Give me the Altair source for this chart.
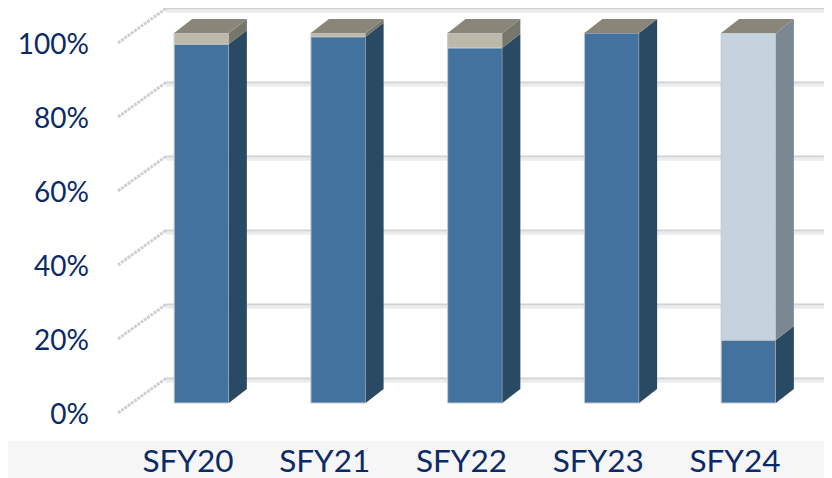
import altair as alt
import pandas as pd

categories = ["SFY20", "SFY21", "SFY22", "SFY23", "SFY24"]
primary = [0.97, 0.99, 0.96, 1.00, 0.17]
secondary = [0.03, 0.01, 0.04, 0.00, 0.83]
secondary_front = ["#BDB9A9", "#BDB9A9", "#BDB9A9", "#BDB9A9", "#C6D3DF"]
secondary_side = ["#77766B", "#77766B", "#77766B", "#77766B", "#7C8794"]
ticks = [0, 0.2, 0.4, 0.6, 0.8, 1.0]

BLUE, BLUE_SIDE, TOP = "#44729E", "#2A4A63", "#8A8579"
INK = "#0B2A66"

# projection of the 3-D look, in data units
HALF = 0.2
LIFT = 0.027
DX, DY = 0.1316, 0.0378
WALL_DX, WALL_DY = 0.351, 0.0935

xs = alt.Scale(domain=[-0.618, 4.552], nice=False, zero=False)
ys = alt.Scale(domain=[-0.0757, 1.0946], nice=False, zero=False)
x_axis = alt.Axis(
    values=list(range(5)), labelExpr="['SFY20','SFY21','SFY22','SFY23','SFY24'][datum.value]",
    orient="bottom", domain=False, ticks=False, grid=False, labelFont="Lato", labelFontSize=31.5,
    labelColor=INK, labelOffset=-14, labelPadding=5, labelBaseline="top", zindex=1)
y_axis = alt.Axis(
    values=ticks, format=".0%", orient="left", domain=False, ticks=False, grid=False,
    labelFont="Lato", labelFontSize=28, labelColor=INK, labelPadding=28.5, labelOffset=2.5, zindex=1)
X = alt.X("x:Q", scale=xs, title=None, axis=x_axis)
Y = alt.Y("y:Q", scale=ys, title=None, axis=y_axis, stack=None)

front, side, top = [], [], []
for i, (p, s) in enumerate(zip(primary, secondary)):
    l, r = i - HALF, i + HALF
    segs = [(0, p, BLUE, BLUE_SIDE)]
    if s > 0:
        segs.append((p, p + s, secondary_front[i], secondary_side[i]))
    for k, (a, b, fc, sc) in enumerate(segs):
        a += LIFT
        b += LIFT
        front.append(dict(x=l, x2=r, y=a, y2=b, c=fc))
        key = f"{i}-{k}"
        side.append(dict(x=r, y=a, y2=b, c=sc, k=key))
        side.append(dict(x=r + DX, y=a + DY, y2=b + DY, c=sc, k=key))
    t = LIFT + p + s
    top += [
        dict(x=l, y=t, y2=t, c=TOP, k=str(i)),
        dict(x=l + DX, y=t, y2=t + DY, c=TOP, k=str(i)),
        dict(x=r, y=t, y2=t + DY, c=TOP, k=str(i)),
        dict(x=r + DX, y=t + DY, y2=t + DY, c=TOP, k=str(i)),
    ]

x_left = xs.domain[0] + 1 / 136.75
x_wall = x_left + WALL_DX
grid = pd.DataFrame([dict(x=x_wall, x2=xs.domain[1], y=v + WALL_DY, y_low=v + WALL_DY - 0.0075, v=v) for v in ticks])
slant = pd.DataFrame(
    [dict(x=x_left, y=v, k=v) for v in ticks] + [dict(x=x_wall, y=v + WALL_DY, k=v) for v in ticks]
)

band = alt.Chart(pd.DataFrame([{"a": 1}])).mark_rect(color="#F6F6F6").encode(
    x=alt.value(-109), x2=alt.value(707), y=alt.value(433), y2=alt.value(470)
)

grid_soft = alt.Chart(grid).mark_rule(color="#ECECEC", strokeWidth=3).encode(
    x=X, x2="x2:Q", y=alt.Y("y_low:Q", scale=ys, title=None, axis=y_axis)
)
grid_line = alt.Chart(grid).mark_rule(color="#D2D2D2", strokeWidth=2).encode(x=X, x2="x2:Q", y=Y)
slants = alt.Chart(slant).mark_line(color="#D0D0D0", strokeWidth=3, strokeDash=[3, 1]).encode(
    x=X, y=Y, detail="k:N", order="x:Q"
)
sides = alt.Chart(pd.DataFrame(side)).mark_area(interpolate="linear", orient="vertical").encode(
    x=X, y=Y, y2="y2:Q", detail="k:N", color=alt.Color("c:N", scale=None)
)
tops = alt.Chart(pd.DataFrame(top)).mark_area(interpolate="linear", orient="vertical").encode(
    x=X, y=Y, y2="y2:Q", detail="k:N", color=alt.Color("c:N", scale=None)
)
fronts = alt.Chart(pd.DataFrame(front)).mark_rect(stroke="#C4C8CC", strokeWidth=1).encode(
    x=X, x2="x2:Q", y=Y, y2="y2:Q", color=alt.Color("c:N", scale=None)
)

chart = alt.layer(band, grid_soft, grid_line, slants, fronts, sides, tops).properties(
    width=707, height=433, autosize="none",
    padding={"left": 109, "top": 0, "right": 0, "bottom": 37},
    background="white",
).configure_view(stroke=None)

chart.save("out.html", embed_options={"renderer": "svg", "actions": False})
